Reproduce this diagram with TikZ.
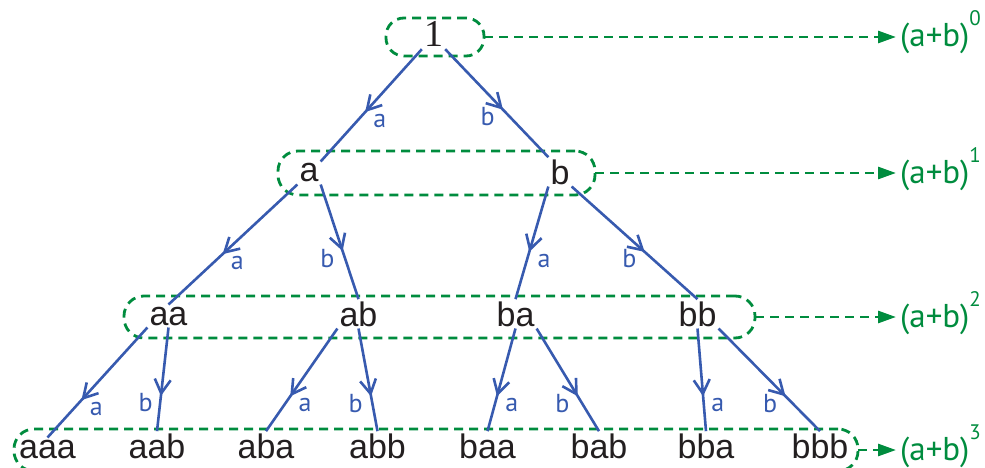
\documentclass[tikz,border=0pt]{standalone}
\usepackage{fontspec}
\setmainfont{Liberation Sans}
\newfontfamily\myriad{PT Sans}
\newfontfamily\timesfont{Liberation Serif}
\usetikzlibrary{
  arrows.meta,
  decorations.markings
}
\definecolor{treeblue}{RGB}{55,90,175}
\definecolor{bandgreen}{RGB}{0,140,62}
\definecolor{ink}{RGB}{35,31,32}

\begin{document}
\begin{tikzpicture}[x=1pt,y=-1pt,
      word/.style={
         anchor=base,
         inner sep=2pt,
         text=ink,
         font=\fontsize{34}{40}\selectfont
      },
      root/.style={
         word,
         font=\timesfont\fontsize{38}{40}\selectfont
      },
      band/.style={
         draw=bandgreen,
         line width=2.8pt,
         dash pattern=on 9pt off 6pt,
         rounded corners=20pt,
         inner sep=0pt,outer sep=0pt
      },
      power/.style={
         anchor=west,
         inner sep=4pt,
         text height=20pt,text depth=0pt,
         text=bandgreen,
         font=\myriad\fontsize{33}{36}\selectfont
      },
      flow/.style={
         draw=bandgreen,line width=2.8pt,
         dash pattern=on 9pt off 6pt,
         -{Triangle[length=18pt,width=12pt]}
      },
      branch/.style={
         treeblue,line width=2.6pt,
         postaction={decorate},
         decoration={markings,
            mark=at position #1 with {\arrow{Straight Barb[length=14pt,width=16pt]}}}
      },
      edge text/.style={inner sep=3pt,text=treeblue,font=\myriad\fontsize{26}{28}\selectfont},
      a label/.style={edge text,anchor=west,xshift=4pt,yshift=-9pt},
      b label/.style={edge text,anchor=east,xshift=-4pt,yshift=-7pt}
    ]
    \clip (0,0) rectangle (985,468);
    % dashed bands, one per power
    \node[band, rounded corners=18pt, minimum width=98pt, minimum height=38pt] (L0) at (435,37) {};
    \node[band, minimum width=317pt, minimum height=44pt] (L1) at (436.5,173) {};
    \node[band, minimum width=631pt, minimum height=42pt] (L2) at (439.5,317) {};
    \node[band, minimum width=844pt, minimum height=42pt] (L3) at (436,450) {};

    \node[power] (P0) at (896,37)  {(a+b)\raisebox{21pt}{\fontsize{21}{22}\selectfont 0}};
    \node[power] (P1) at (896,173) {(a+b)\raisebox{21pt}{\fontsize{21}{22}\selectfont 1}};
    \node[power] (P2) at (896,317) {(a+b)\raisebox{21pt}{\fontsize{21}{22}\selectfont 2}};
    \node[power] (P3) at (896,450) {(a+b)\raisebox{21pt}{\fontsize{21}{22}\selectfont 3}};

    \draw[flow] (L0.east) -- (P0.west);
    \draw[flow] (L1.east) -- (P1.west);
    \draw[flow] (L2.east) -- (P2.west);
    \draw[flow] (L3.east) -- (P3.west);

    % words
    \node[root] (one) at (433.5,47) {1};
    \node[word] (a) at (309,182) {a};
    \node[word] (b) at (560,184) {b};
    \node[word] (aa) at (168.5,325) {aa};
    \node[word] (ab) at (358.5,326) {ab};
    \node[word] (ba) at (515.5,326) {ba};
    \node[word] (bb) at (697.5,326) {bb};
    \node[word] (aaa) at (47.5,458) {aaa};
    \node[word] (aab) at (157,458) {aab};
    \node[word] (aba) at (266,458) {aba};
    \node[word] (abb) at (377.5,458) {abb};
    \node[word] (baa) at (487.5,458) {baa};
    \node[word] (bab) at (599,458) {bab};
    \node[word] (bba) at (706,458) {bba};
    \node[word] (bbb) at (820,458) {bbb};

    % branches
    \draw[branch=0.56] (one.south west) -- node[a label,pos=0.56] {a} (a.north east);
    \draw[branch=0.56] (one.south east) -- node[b label,pos=0.56] {b} (b.north west);

    \draw[branch=0.58] (a.south west) -- node[a label,pos=0.58] {a} (aa.north);
    \draw[branch=0.58] (a.south east) -- node[b label,pos=0.58] {b} (ab.north);
    \draw[branch=0.58] (b.south west) -- node[a label,pos=0.58] {a} (ba.north);
    \draw[branch=0.58] (b.south east) -- node[b label,pos=0.58] {b} (bb.north);

    \draw[branch=0.66] (aa.south west) -- node[a label,pos=0.66] {a} (aaa.north);
    \draw[branch=0.66] (aa.south) -- node[b label,pos=0.66] {b} (aab.north);
    \draw[branch=0.66] (ab.south west) -- node[a label,pos=0.66] {a} (aba.north);
    \draw[branch=0.66] (ab.south) -- node[b label,pos=0.66] {b} (abb.north);
    \draw[branch=0.66] (ba.south) -- node[a label,pos=0.66] {a} (baa.north);
    \draw[branch=0.66] (ba.south east) -- node[b label,pos=0.66] {b} (bab.north);
    \draw[branch=0.66] (bb.south) -- node[a label,pos=0.66] {a} (bba.north);
    \draw[branch=0.66] (bb.south east) -- node[b label,pos=0.66] {b} (bbb.north);
\end{tikzpicture}
\end{document}
